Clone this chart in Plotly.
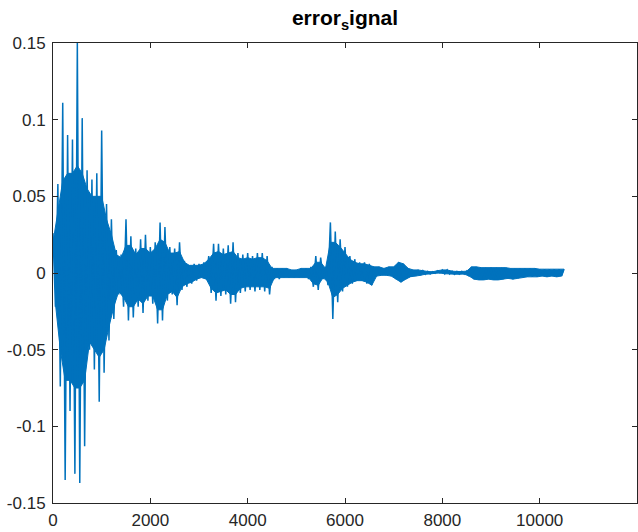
import plotly.graph_objects as go

# Error signal.
# upper: positive peaks at samples 0, 100, 200, ... 10500
# lower: negative peaks at samples 50, 150, 250, ... 10450
sample_step = 100
upper = [
    0.026, 0.058, 0.111, 0.090, 0.087, 0.150, 0.101, 0.067, 0.061, 0.065,
    0.093, 0.045, 0.035, 0.015, 0.012, 0.035, 0.024, 0.016, 0.022, 0.025,
    0.017, 0.020, 0.033, 0.030, 0.017, 0.016, 0.020, 0.008, 0.005, 0.006,
    0.006, 0.007, 0.011, 0.019, 0.019, 0.016, 0.018, 0.020, 0.013, 0.012,
    0.013, 0.011, 0.013, 0.013, 0.011, 0.004, 0.003, 0.003, 0.003, 0.002,
    0.002, 0.003, 0.003, 0.004, 0.011, 0.010, 0.004, 0.033, 0.027, 0.022,
    0.017, 0.011, 0.009, 0.007, 0.007, 0.006, 0.004, 0.004, 0.003, 0.004,
    0.004, 0.007, 0.006, 0.003, 0.002, 0.002, 0.0015, 0.001, 0.0008, 0.0015,
    0.002, 0.002, 0.0012, 0.001, 0.001, 0.0012, 0.004, 0.004, 0.0035, 0.0035,
    0.0035, 0.0035, 0.0035, 0.0035, 0.003, 0.003, 0.003, 0.003, 0.003, 0.003,
    0.0025, 0.0025, 0.0025, 0.0025, 0.0025, 0.0025,
]
lower = [
    -0.022, -0.074, -0.135, -0.090, -0.131, -0.137, -0.113, -0.050, -0.063, -0.084,
    -0.065, -0.044, -0.030, -0.014, -0.022, -0.031, -0.029, -0.022, -0.026, -0.018,
    -0.020, -0.033, -0.031, -0.018, -0.014, -0.021, -0.011, -0.009, -0.007, -0.005,
    -0.003, -0.004, -0.013, -0.018, -0.015, -0.014, -0.020, -0.019, -0.013, -0.012,
    -0.011, -0.012, -0.011, -0.012, -0.014, -0.004, -0.004, -0.003, -0.003, -0.003,
    -0.003, -0.003, -0.004, -0.009, -0.011, -0.004, -0.008, -0.030, -0.019, -0.012,
    -0.009, -0.007, -0.005, -0.005, -0.007, -0.008, -0.002, -0.0015, -0.0015, -0.002,
    -0.004, -0.006, -0.004, -0.0024, -0.002, -0.0015, -0.0008, -0.0006, -0.0002, 0.0,
    -0.0005, -0.0006, -0.0008, -0.0008, -0.0007, -0.002, -0.004, -0.0045, -0.0045, -0.004,
    -0.0045, -0.0045, -0.004, -0.0035, -0.004, -0.0035, -0.003, -0.0025, -0.0025, -0.0025,
    -0.002, -0.0025, -0.002, -0.0025, -0.002,
]
# extent of the dense (solid) core of the trace over the first 6500 samples;
# later on the core reaches the peaks
core_upper = [
    0.020, 0.040, 0.060, 0.065, 0.065, 0.070, 0.065, 0.055, 0.050, 0.050,
    0.050, 0.035, 0.025, 0.012, 0.010, 0.018, 0.018, 0.012, 0.016, 0.016,
    0.013, 0.016, 0.022, 0.020, 0.013, 0.013, 0.014, 0.007, 0.005, 0.005,
    0.005, 0.006, 0.009, 0.013, 0.014, 0.012, 0.013, 0.014, 0.010, 0.009,
    0.010, 0.009, 0.010, 0.010, 0.008, 0.003, 0.003, 0.003, 0.003, 0.002,
    0.002, 0.003, 0.003, 0.003, 0.007, 0.007, 0.003, 0.020, 0.020, 0.017,
    0.013, 0.009, 0.007, 0.006, 0.006, 0.005,
]
core_lower = [
    -0.020, -0.050, -0.070, -0.070, -0.075, -0.075, -0.070, -0.045, -0.050, -0.055,
    -0.050, -0.035, -0.022, -0.012, -0.016, -0.022, -0.022, -0.017, -0.020, -0.015,
    -0.015, -0.024, -0.024, -0.014, -0.012, -0.016, -0.009, -0.007, -0.006, -0.004,
    -0.003, -0.004, -0.010, -0.013, -0.012, -0.011, -0.014, -0.014, -0.010, -0.009,
    -0.009, -0.009, -0.009, -0.009, -0.010, -0.003, -0.003, -0.003, -0.003, -0.003,
    -0.003, -0.003, -0.003, -0.007, -0.008, -0.003, -0.006, -0.016, -0.014, -0.010,
    -0.008, -0.006, -0.005, -0.005, -0.006,
]

x_ticks = [0, 2000, 4000, 6000, 8000, 10000, 12000]
x_tick_text = ["0", "2000", "4000", "6000", "8000", "10000", "12000"]
y_ticks = [-0.15, -0.1, -0.05, 0, 0.05, 0.1, 0.15]
y_tick_text = ["-0.15", "-0.1", "-0.05", "0", "0.05", "0.1", "0.15"]

x_upper = [i * sample_step for i in range(len(upper))]
x_lower = [i * sample_step + sample_step // 2 for i in range(len(lower))]

band_top = core_upper + upper[len(core_upper):]
band_bot = core_lower + lower[len(core_lower):]
band_x = x_upper + x_lower[::-1]
band_y = band_top + band_bot[::-1]

xs, ys = [], []
for i, u in enumerate(upper):
    xs.append(x_upper[i])
    ys.append(u)
    if i < len(lower):
        xs.append(x_lower[i])
        ys.append(lower[i])

AX = "#262626"
BLUE = "#0072BD"
FONT = "Liberation Sans, Arial, sans-serif"

fig = go.Figure()
fig.add_trace(go.Scatter(x=band_x, y=band_y, mode="lines", fill="toself",
                         fillcolor=BLUE, line=dict(color=BLUE, width=1, simplify=False),
                         hoverinfo="skip"))
fig.add_trace(go.Scatter(x=xs, y=ys, mode="lines",
                         line=dict(color=BLUE, width=1.5, simplify=False),
                         hoverinfo="skip"))

common = dict(
    showgrid=False, zeroline=False, showline=True, linecolor=AX, linewidth=1,
    mirror="ticks", ticks="inside", ticklen=5, tickcolor=AX, tickwidth=1,
    tickfont=dict(family=FONT, size=17, color=AX),
)

fig.update_layout(
    width=638, height=532,
    margin=dict(l=53, r=1, t=43, b=29),
    paper_bgcolor="white", plot_bgcolor="white",
    showlegend=False,
    title=dict(text="<b>error<sub>s</sub>ignal</b>", x=0.5, xref="paper",
               xanchor="center", y=1 - 18 / 532, yref="container", yanchor="middle",
               font=dict(family=FONT, size=21, color="#000000")),
    xaxis=dict(range=[0, 12000], tickvals=x_ticks, ticktext=x_tick_text,
               ticklabelstandoff=2, **common),
    yaxis=dict(range=[-0.15, 0.15], tickvals=y_ticks, ticktext=y_tick_text,
               ticklabelstandoff=3, **common),
)

fig.write_html("out.html")
